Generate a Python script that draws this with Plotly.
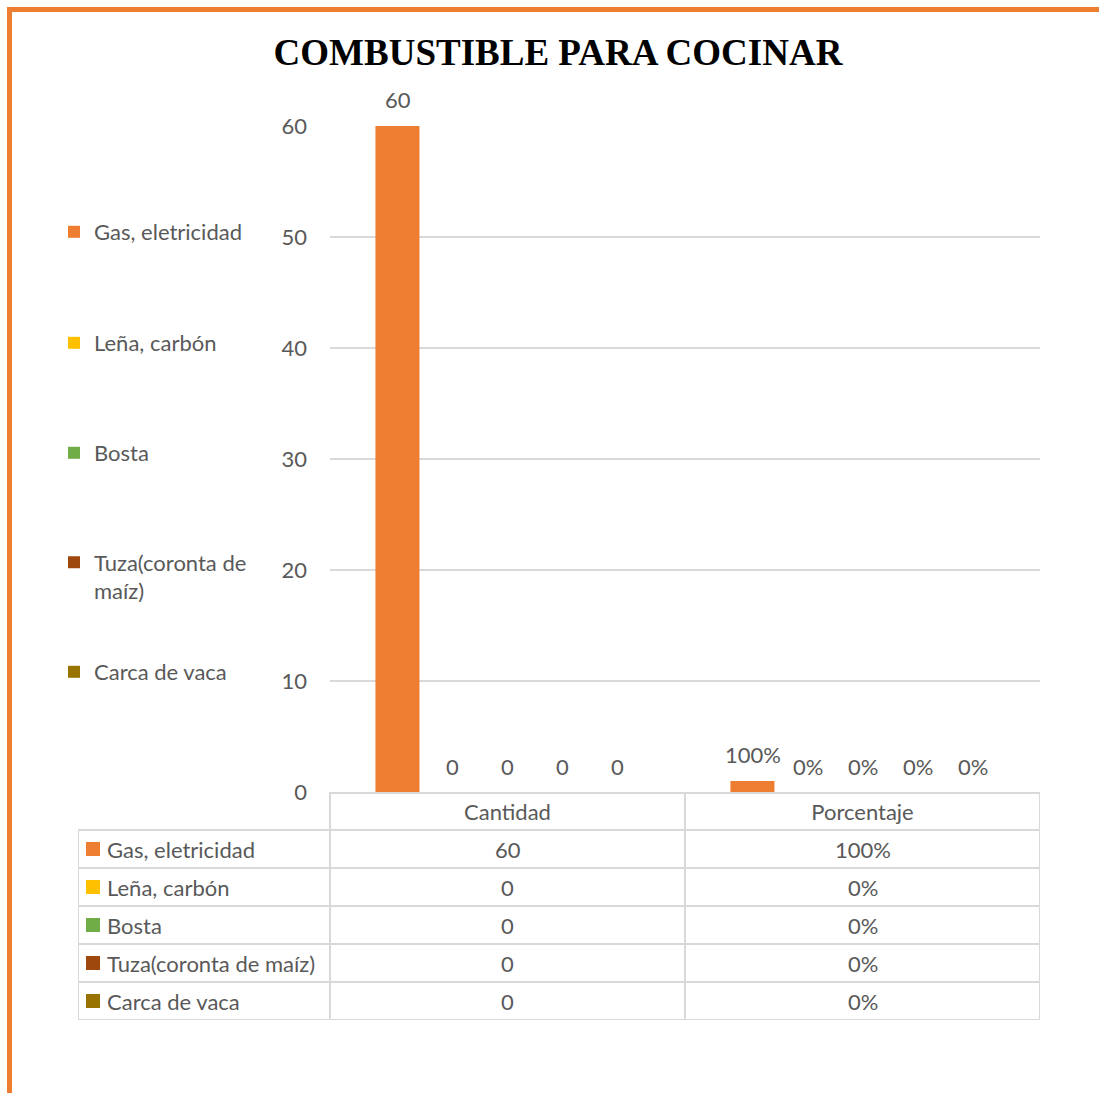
import plotly.graph_objects as go

# ---- data ----
title_text = "COMBUSTIBLE PARA COCINAR"
categories = ["Cantidad", "Porcentaje"]
series_names = ["Gas, eletricidad", "Leña, carbón", "Bosta", "Tuza(coronta de maíz)", "Carca de vaca"]
legend_labels = ["Gas, eletricidad", "Leña, carbón", "Bosta", "Tuza(coronta de<br>maíz)", "Carca de vaca"]
cantidad = [60, 0, 0, 0, 0]
porcentaje = [1.0, 0.0, 0.0, 0.0, 0.0]
colors = ["#ED7D31", "#FFC000", "#70AD47", "#9E480E", "#997300"]
y_ticks = [0, 10, 20, 30, 40, 50, 60]

# ---- geometry (pixels) ----
W, H = 1099, 1093
PLOT_L, PLOT_R = 330, 1040
PLOT_T, Y_ZERO = 126, 792
TABLE_L, TABLE_B = 78, 1020
CAT_W = (PLOT_R - PLOT_L) / 2.0

def px_x(X):
    return X / W

def px_y(Y):
    return 1 - Y / H

left_units = (PLOT_L - TABLE_L) / CAT_W
x2_left = -0.5 - left_units

FONT = "Lato"
FS = 22
TXT = "#595959"
GRID = "#d9d9d9"

def fmt_pct(v):
    return f"{v:.0%}"

def fmt_num(v):
    return f"{v:g}"

fig = go.Figure()

legend_ids = ["legend", "legend2", "legend3", "legend4", "legend5"]
for i, name in enumerate(series_names):
    fig.add_trace(go.Bar(
        x=categories, y=[cantidad[i], porcentaje[i]],
        name=legend_labels[i], marker=dict(color=colors[i], line=dict(width=0)),
        legend=legend_ids[i], xaxis="x", yaxis="y",
        hoverinfo="skip",
    ))

# table key squares
fig.add_trace(go.Scatter(
    x=[x2_left + 15 / CAT_W] * len(series_names),
    y=[i + 1.5 for i in range(len(series_names))],
    mode="markers", marker=dict(symbol="square", size=14, color=colors, line=dict(width=0)),
    xaxis="x2", yaxis="y2", showlegend=False, hoverinfo="skip",
))

annotations = []
n = len(series_names)
slot = 55
for i in range(n):
    for ci, cat in enumerate(categories):
        v = cantidad[i] if ci == 0 else porcentaje[i]
        txt = fmt_num(v) if ci == 0 else fmt_pct(v)
        annotations.append(dict(
            x=cat, y=v, xref="x", yref="y", text=txt, showarrow=False,
            xshift=(i - (n - 1) / 2) * slot, yshift=26, yanchor="middle",
            font=dict(family=FONT, size=FS, color=TXT),
        ))

for i, name in enumerate(series_names):
    yy = i + 1.5
    annotations.append(dict(x=x2_left + 27 / CAT_W, y=yy, xref="x2", yref="y2",
                            text=name, showarrow=False, xanchor="left", yanchor="middle",
                            font=dict(family=FONT, size=FS, color=TXT)))
    annotations.append(dict(x=0, y=yy, xref="x2", yref="y2", text=fmt_num(cantidad[i]),
                            showarrow=False, xanchor="center", yanchor="middle",
                            font=dict(family=FONT, size=FS, color=TXT)))
    annotations.append(dict(x=1, y=yy, xref="x2", yref="y2", text=fmt_pct(porcentaje[i]),
                            showarrow=False, xanchor="center", yanchor="middle",
                            font=dict(family=FONT, size=FS, color=TXT)))

shapes = []
lw = 2
for r in range(1, n + 2):
    shapes.append(dict(type="line", xref="x2", yref="y2", x0=x2_left, x1=1.5, y0=r, y1=r,
                       line=dict(color=GRID, width=lw), layer="below"))
shapes.append(dict(type="line", xref="x2", yref="y2", x0=x2_left, x1=x2_left, y0=1, y1=n + 1,
                   line=dict(color=GRID, width=lw), layer="below"))
for xv in [-0.5, 0.5, 1.5]:
    shapes.append(dict(type="line", xref="x2", yref="y2", x0=xv, x1=xv, y0=0, y1=n + 1,
                       line=dict(color=GRID, width=lw), layer="below"))

# orange frame (top and left)
shapes.append(dict(type="line", xref="paper", yref="paper",
                   x0=px_x(7), x1=px_x(1099), y0=px_y(9.5), y1=px_y(9.5),
                   line=dict(color="#ED7D31", width=5)))
shapes.append(dict(type="line", xref="paper", yref="paper",
                   x0=px_x(9.5), x1=px_x(9.5), y0=px_y(7), y1=px_y(1093),
                   line=dict(color="#ED7D31", width=5)))

legend_centers = [232, 343, 453, 577, 672]
layout_legends = {}
for i, lid in enumerate(legend_ids):
    layout_legends[lid] = dict(
        x=px_x(54), xref="paper", xanchor="left",
        y=px_y(legend_centers[i]), yref="paper", yanchor="middle",
        font=dict(family=FONT, size=FS, color=TXT), bgcolor="rgba(0,0,0,0)",
        valign="top",
    )

fig.update_layout(
    width=W, height=H,
    margin=dict(l=0, r=0, t=0, b=0, autoexpand=False),
    paper_bgcolor="white", plot_bgcolor="white",
    title=dict(text=title_text, x=px_x(558), xref="paper", xanchor="center",
               y=px_y(52), yref="paper", yanchor="middle",
               font=dict(family="Liberation Serif", size=37, color="black", weight=700)),
    barmode="group", bargap=0.225, bargroupgap=0.2,
    xaxis=dict(domain=[px_x(PLOT_L), px_x(PLOT_R)], anchor="y", type="category", showgrid=False,
               showline=True, linecolor=GRID, linewidth=lw, ticks="",
               tickfont=dict(family=FONT, size=FS, color=TXT), fixedrange=True),
    yaxis=dict(domain=[px_y(Y_ZERO), px_y(PLOT_T)], anchor="x", range=[0, 60], tickvals=y_ticks,
               showgrid=True, gridcolor=GRID, gridwidth=1.5, zeroline=False,
               showline=False, ticks="", ticklabelstandoff=22,
               tickfont=dict(family=FONT, size=FS, color=TXT)),
    xaxis2=dict(domain=[px_x(TABLE_L), px_x(PLOT_R)], anchor="y2", range=[x2_left, 1.5], visible=False),
    yaxis2=dict(domain=[px_y(TABLE_B), px_y(Y_ZERO)], anchor="x2", range=[n + 1, 0], visible=False),
    annotations=annotations, shapes=shapes,
    **layout_legends,
)

fig.write_html("out.html", config={"displayModeBar": False},
               post_script="document.body.style.margin='0';document.body.style.overflow='hidden';")
